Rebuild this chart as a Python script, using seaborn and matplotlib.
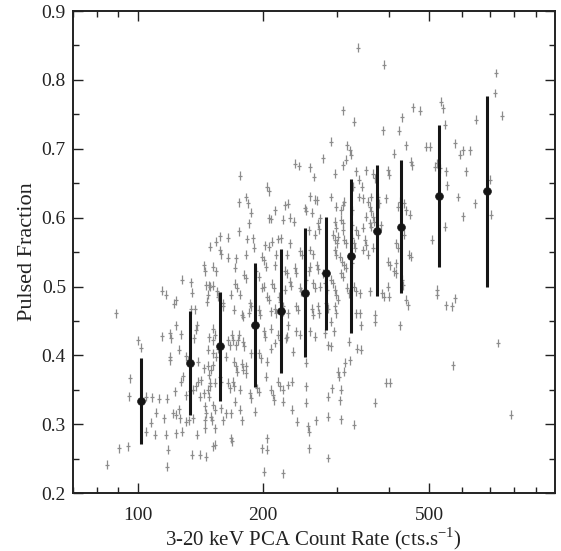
import matplotlib

matplotlib.use("Agg")
import matplotlib.pyplot as plt
import numpy as np
import pandas as pd
import seaborn as sns

rate_low = [
    143.9, 144.7, 127.8, 134.0, 146.0, 148.1, 114.4, 116.7, 135.3, 147.4,
    123.8, 122.2, 146.9, 88.9, 134.4, 137.1, 123.8, 138.9, 138.2, 119.8,
    120.3, 114.4, 127.1, 136.5, 148.0, 100.2, 102.0, 125.7, 147.4, 119.8,
    119.3, 131.0, 132.3, 139.3, 144.2, 147.4, 95.9, 128.3, 126.8, 148.0,
    139.3, 142.0, 95.2, 104.5, 108.4, 112.5, 117.6, 122.7, 130.5, 133.3,
    135.8, 138.2, 141.3, 143.9, 147.4, 148.0, 110.8, 121.6, 123.8, 125.7,
    126.1, 115.4, 130.5, 132.8, 135.8, 107.8, 144.7, 146.0, 144.7, 104.5,
    110.4, 117.1, 123.8, 127.8, 138.6, 144.7, 90.2, 94.8, 118.2, 135.3,
    141.3, 146.0, 84.4, 117.6, 149.3,
]
pf_low = [
    0.531, 0.522, 0.510, 0.506, 0.502, 0.502, 0.494, 0.488, 0.491, 0.488,
    0.480, 0.475, 0.478, 0.461, 0.467, 0.467, 0.444, 0.444, 0.437, 0.432,
    0.425, 0.428, 0.431, 0.425, 0.426, 0.422, 0.411, 0.408, 0.408, 0.398,
    0.393, 0.399, 0.393, 0.391, 0.381, 0.385, 0.367, 0.370, 0.362, 0.372,
    0.362, 0.364, 0.341, 0.340, 0.339, 0.337, 0.337, 0.348, 0.342, 0.348,
    0.350, 0.355, 0.340, 0.345, 0.350, 0.340, 0.317, 0.316, 0.314, 0.322,
    0.309, 0.309, 0.304, 0.306, 0.309, 0.302, 0.326, 0.316, 0.306, 0.289,
    0.285, 0.285, 0.287, 0.289, 0.285, 0.294, 0.265, 0.268, 0.263, 0.256,
    0.256, 0.253, 0.241, 0.238, 0.558,
]

rate_mid_upper = [
    279.0, 237.9, 243.8, 258.6, 176.4, 264.9, 204.3, 206.2, 258.6, 266.0,
    269.6, 182.4, 184.0, 174.7, 225.1, 229.3, 213.8, 187.4, 252.5, 253.9,
    261.2, 273.3, 206.2, 208.3, 222.7, 231.5, 236.5, 185.0, 270.8, 272.1,
    174.7, 158.0, 164.5, 257.6, 266.0, 182.9, 189.0, 201.6, 206.3, 210.5,
    216.5, 220.8, 231.5, 154.1, 158.0, 158.9, 164.5, 172.0, 258.6, 263.4,
    182.4, 190.0, 198.2, 200.5, 215.0, 228.0, 244.7, 248.3, 269.6, 270.8,
    152.0, 154.4, 171.5, 180.0, 181.6, 192.1, 195.0, 203.7, 213.0, 225.1,
    228.0, 237.9, 240.2, 258.6, 257.6, 279.0, 148.8, 152.0, 155.0, 155.8,
    167.4, 171.5, 172.8, 175.7, 185.6, 187.4, 198.2, 200.5, 204.3, 206.2,
    209.8, 211.8, 217.8, 219.1, 225.1, 231.5, 233.7, 244.7, 247.1, 253.9,
    263.4, 266.0, 273.3, 281.2, 284.9, 159.9, 160.6, 170.0, 177.5, 179.3,
    185.0, 195.7, 196.5, 208.3, 213.0, 215.0, 222.7, 222.7, 229.3, 240.2,
    242.4, 261.2, 263.4, 270.8, 272.1, 283.0, 285.9,
]
pf_mid_upper = [
    0.686, 0.678, 0.675, 0.673, 0.661, 0.659, 0.645, 0.638, 0.631, 0.626,
    0.625, 0.630, 0.621, 0.622, 0.618, 0.620, 0.611, 0.607, 0.614, 0.610,
    0.607, 0.599, 0.599, 0.598, 0.597, 0.600, 0.594, 0.592, 0.592, 0.583,
    0.580, 0.573, 0.571, 0.582, 0.575, 0.569, 0.570, 0.560, 0.558, 0.565,
    0.569, 0.570, 0.563, 0.565, 0.553, 0.547, 0.542, 0.541, 0.553, 0.547,
    0.546, 0.556, 0.543, 0.538, 0.546, 0.546, 0.551, 0.546, 0.531, 0.525,
    0.529, 0.522, 0.527, 0.517, 0.512, 0.522, 0.514, 0.529, 0.531, 0.523,
    0.519, 0.527, 0.520, 0.529, 0.522, 0.519, 0.500, 0.501, 0.493, 0.485,
    0.488, 0.504, 0.498, 0.488, 0.476, 0.471, 0.498, 0.500, 0.485, 0.481,
    0.504, 0.498, 0.485, 0.478, 0.495, 0.507, 0.501, 0.498, 0.493, 0.510,
    0.505, 0.498, 0.500, 0.505, 0.495, 0.476, 0.471, 0.466, 0.459, 0.456,
    0.462, 0.466, 0.459, 0.464, 0.468, 0.461, 0.471, 0.464, 0.461, 0.471,
    0.466, 0.468, 0.459, 0.471, 0.461, 0.476, 0.468,
]

rate_mid_lower = [
    151.4, 152.9, 151.4, 151.4, 155.8, 154.4, 164.5, 166.2, 168.6, 169.2,
    172.0, 173.9, 174.7, 179.3, 180.3, 163.0, 170.3, 172.0, 172.8, 177.5,
    179.3, 182.4, 181.6, 187.4, 195.7, 197.8, 204.3, 200.5, 202.3, 209.3,
    208.3, 213.0, 216.5, 219.1, 226.5, 228.0, 235.4, 229.3, 240.2, 244.7,
    258.6, 266.0, 281.2, 285.9, 253.9, 151.4, 150.3, 152.9, 148.8, 148.8,
    157.3, 158.6, 164.5, 166.2, 169.2, 170.3, 175.7, 185.6, 187.4, 192.9,
    195.0, 203.5, 209.3, 211.1, 212.0, 216.5, 219.1, 222.7, 222.7, 229.3,
    234.5, 253.9, 286.6, 151.4, 152.9, 158.6, 163.0, 167.4, 159.9, 150.3,
    151.2, 171.5, 176.4, 177.5, 191.0, 234.5, 241.1, 253.9, 267.3, 256.2,
    257.6, 152.9, 152.9, 151.4, 167.4, 168.6, 204.3, 198.2, 204.3, 200.5,
    222.7, 257.6, 286.6, 286.6,
]
pf_mid_lower = [
    0.439, 0.430, 0.422, 0.403, 0.410, 0.398, 0.422, 0.415, 0.430, 0.422,
    0.415, 0.422, 0.430, 0.420, 0.413, 0.398, 0.391, 0.384, 0.376, 0.388,
    0.379, 0.384, 0.374, 0.403, 0.403, 0.396, 0.391, 0.435, 0.427, 0.439,
    0.410, 0.418, 0.430, 0.422, 0.425, 0.427, 0.405, 0.444, 0.435, 0.430,
    0.435, 0.427, 0.432, 0.415, 0.389, 0.386, 0.379, 0.360, 0.360, 0.355,
    0.369, 0.362, 0.360, 0.352, 0.362, 0.355, 0.350, 0.345, 0.338, 0.352,
    0.347, 0.369, 0.350, 0.343, 0.335, 0.362, 0.355, 0.350, 0.333, 0.357,
    0.362, 0.355, 0.340, 0.328, 0.321, 0.323, 0.316, 0.316, 0.306, 0.311,
    0.306, 0.333, 0.321, 0.306, 0.318, 0.321, 0.304, 0.331, 0.306, 0.297,
    0.289, 0.294, 0.270, 0.268, 0.280, 0.275, 0.280, 0.265, 0.263, 0.231,
    0.229, 0.265, 0.251, 0.311,
]

rate_high_upper = [
    291.0, 318.2, 322.4, 324.1, 315.4, 310.1, 296.6, 334.2, 353.1, 366.3,
    369.7, 397.4, 399.5, 412.2, 439.0, 451.7, 455.4, 492.0, 503.3, 515.0,
    520.6, 529.9, 549.6, 340.0, 345.1, 328.2, 291.0, 338.7, 346.2, 363.3,
    356.2, 360.1, 363.3, 366.3, 367.9, 376.6, 378.5, 394.3, 421.7, 424.9,
    436.0, 440.4, 449.0, 299.5, 307.6, 310.3, 313.1, 327.4, 353.1, 296.6,
    298.2, 307.6, 310.3, 310.3, 327.4, 334.2, 337.1, 346.2, 360.1, 363.3,
    383.0, 293.8, 296.6, 302.2, 300.4, 313.1, 315.9, 327.4, 330.2, 331.9,
    350.1, 353.1, 346.2, 366.3, 417.0, 421.0, 436.0, 296.6, 299.5, 305.6,
    309.2, 313.1, 315.9, 327.4, 356.2, 397.4, 402.1, 415.7, 412.2, 446.9,
    451.7, 507.0, 544.0, 291.0, 293.8, 296.6, 299.5, 302.2, 307.6, 310.3,
    318.2, 320.5, 330.2, 334.2, 340.8, 360.1, 385.5, 389.2, 397.4, 399.5,
    417.0, 431.2, 433.1, 440.5, 444.6, 520.6, 523.0, 549.6, 296.6, 299.5,
    334.2, 340.8, 369.7, 552.0,
]
pf_high_upper = [
    0.710, 0.705, 0.698, 0.691, 0.684, 0.676, 0.664, 0.667, 0.669, 0.664,
    0.657, 0.669, 0.662, 0.693, 0.705, 0.681, 0.676, 0.703, 0.703, 0.674,
    0.679, 0.672, 0.667, 0.655, 0.645, 0.645, 0.630, 0.630, 0.628, 0.630,
    0.623, 0.616, 0.609, 0.601, 0.594, 0.630, 0.621, 0.628, 0.616, 0.623,
    0.621, 0.611, 0.604, 0.616, 0.611, 0.618, 0.623, 0.611, 0.601, 0.594,
    0.585, 0.597, 0.592, 0.582, 0.589, 0.582, 0.575, 0.585, 0.592, 0.587,
    0.589, 0.575, 0.568, 0.572, 0.563, 0.568, 0.563, 0.570, 0.563, 0.556,
    0.568, 0.560, 0.553, 0.556, 0.563, 0.556, 0.575, 0.553, 0.546, 0.543,
    0.536, 0.531, 0.527, 0.534, 0.546, 0.536, 0.531, 0.534, 0.522, 0.546,
    0.543, 0.568, 0.587, 0.510, 0.505, 0.495, 0.488, 0.481, 0.519, 0.514,
    0.498, 0.490, 0.500, 0.493, 0.490, 0.493, 0.490, 0.485, 0.500, 0.485,
    0.519, 0.510, 0.502, 0.481, 0.473, 0.495, 0.488, 0.473, 0.471, 0.461,
    0.461, 0.461, 0.459, 0.647,
]

rate_high_lower = [
    291.0, 295.1, 291.0, 320.5, 343.3, 369.7, 424.9, 335.7, 343.3, 314.8,
    322.4, 313.1, 302.2, 303.6, 292.6, 307.6, 306.3, 394.3, 402.1, 369.7,
    307.6, 330.2,
]
pf_high_lower = [
    0.449, 0.435, 0.413, 0.420, 0.444, 0.449, 0.444, 0.410, 0.408, 0.389,
    0.393, 0.376, 0.376, 0.369, 0.352, 0.350, 0.335, 0.360, 0.360, 0.331,
    0.307, 0.299,
]

rate_top = [
    337.1, 389.2, 724.0, 717.3, 310.1, 329.8, 457.5, 474.5, 535.0, 539.0,
    745.6, 429.5, 646.6, 544.4, 386.6, 422.4,
]
pf_top = [
    0.847, 0.822, 0.810, 0.781, 0.756, 0.739, 0.760, 0.755, 0.768, 0.759,
    0.748, 0.746, 0.742, 0.735, 0.727, 0.726,
]

rate_bright = [
    575.6, 594.0, 601.0, 627.8, 613.8, 586.5, 642.0, 698.3, 604.0, 703.0,
    578.0, 566.0, 729.7, 571.5, 787.0,
]
pf_bright = [
    0.708, 0.691, 0.698, 0.698, 0.667, 0.630, 0.621, 0.655, 0.602, 0.604,
    0.483, 0.471, 0.418, 0.386, 0.314,
]

# Binned averages (black points).
bin_rate = [102.0, 133.8, 157.9, 190.8, 221.0, 252.6, 283.5, 324.2, 374.9, 428.0, 527.0, 688.0]
bin_pf = [0.334, 0.389, 0.413, 0.444, 0.465, 0.491, 0.519, 0.544, 0.581, 0.587, 0.631, 0.638]
bin_err = [0.062, 0.075, 0.079, 0.090, 0.090, 0.094, 0.082, 0.112, 0.095, 0.097, 0.103, 0.139]

GRAY_ERR = 0.0065
GRAY = "#8c8c8c"
BLACK = "#151515"
INK = "#222222"


def build_observations() -> pd.DataFrame:
    """Collect the per-observation points into one table."""
    parts = [
        (rate_low, pf_low),
        (rate_mid_upper, pf_mid_upper),
        (rate_mid_lower, pf_mid_lower),
        (rate_high_upper, pf_high_upper),
        (rate_high_lower, pf_high_lower),
        (rate_top, pf_top),
        (rate_bright, pf_bright),
    ]
    frames = [pd.DataFrame({"rate": r, "pf": p}) for r, p in parts]
    return pd.concat(frames, ignore_index=True)


def main() -> None:
    sns.set_theme(style="ticks")
    plt.rcParams["font.family"] = ["Liberation Serif", "DejaVu Serif"]
    plt.rcParams["mathtext.fontset"] = "custom"
    plt.rcParams["mathtext.rm"] = "Liberation Serif"

    obs = build_observations()
    bins = pd.DataFrame({"rate": bin_rate, "pf": bin_pf, "err": bin_err})

    fig = plt.figure(figsize=(5.61, 5.51), dpi=100)
    ax = fig.add_axes([0.130, 0.105, 0.859, 0.875])
    ax.set_xscale("log")

    ax.errorbar(
        obs["rate"], obs["pf"], yerr=GRAY_ERR, fmt="none",
        ecolor=GRAY, elinewidth=0.9, capsize=0, zorder=2,
    )
    sns.scatterplot(
        data=obs, x="rate", y="pf", marker="_", s=10, color=GRAY,
        linewidth=0.9, legend=False, ax=ax, zorder=2,
    )
    ax.errorbar(
        bins["rate"], bins["pf"], yerr=bins["err"], fmt="none",
        ecolor=BLACK, elinewidth=2.2, capsize=0, zorder=3,
    )
    sns.scatterplot(
        data=bins, x="rate", y="pf", s=32, color=BLACK, edgecolor=BLACK,
        legend=False, ax=ax, zorder=4,
    )

    ax.set_xlim(70, 1000)
    ax.set_ylim(0.2, 0.9)
    ax.set_xticks([100, 200, 500])
    ax.set_xticklabels(["100", "200", "500"])
    ax.set_xticks([70, 80, 90, 300, 400, 600, 700, 800, 900], minor=True)
    ax.set_xticklabels([], minor=True)
    ax.set_yticks(np.arange(0.2, 0.91, 0.1))
    ax.set_yticklabels([f"{v:.1f}" for v in np.arange(0.2, 0.91, 0.1)])
    ax.set_yticks(np.arange(0.25, 0.9, 0.1), minor=True)

    ax.tick_params(which="both", direction="in", top=True, right=True,
                   width=1.0, colors=INK, labelcolor=INK)
    ax.tick_params(which="major", length=7, labelsize=14)
    ax.tick_params(which="minor", length=4)
    ax.tick_params(axis="y", which="major", pad=5)
    ax.tick_params(axis="x", which="major", pad=10)
    for spine in ax.spines.values():
        spine.set_linewidth(1.4)
        spine.set_color(INK)

    ax.set_xlabel("3-20 keV PCA Count Rate (cts.s$^{\\mathrm{-1}}$)",
                  fontsize=15, color=INK)
    ax.xaxis.set_label_coords(0.5, -0.066)
    ax.set_ylabel("Pulsed Fraction", fontsize=16, color=INK, labelpad=3)

    fig.savefig("out.png", dpi=100)
    plt.close(fig)


if __name__ == "__main__":
    main()
